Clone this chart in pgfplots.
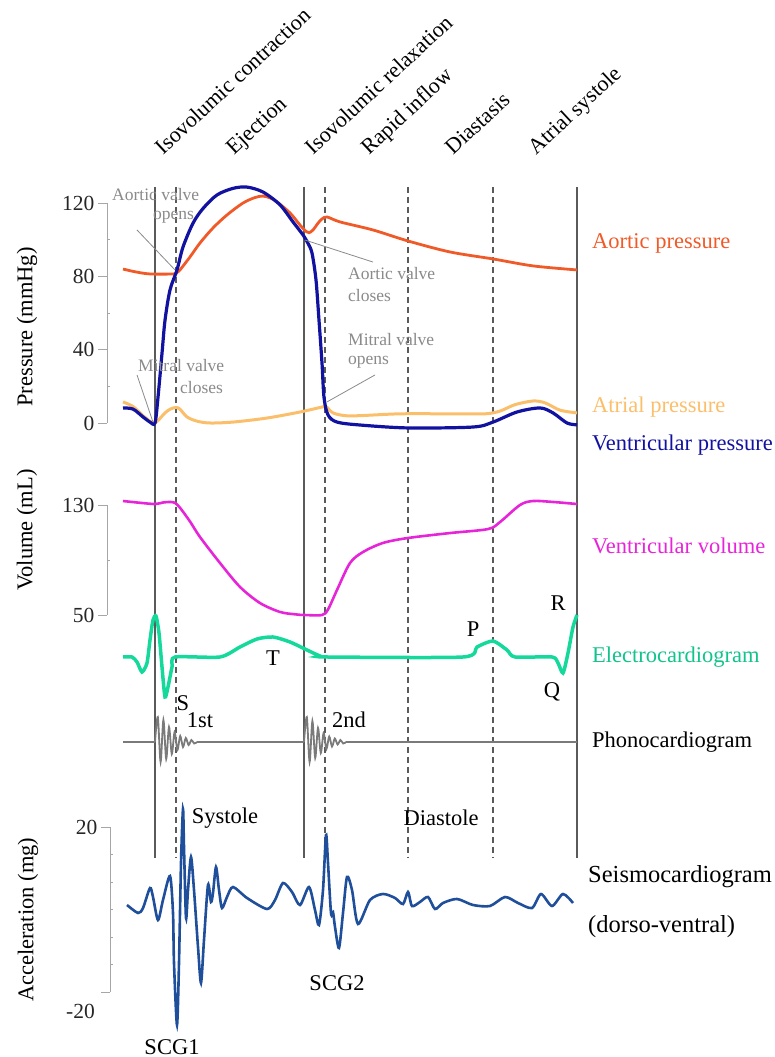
\documentclass[border=0pt]{standalone}
\usepackage{fontspec}
\setmainfont{Liberation Serif}
\usepackage{pgfplots}
\pgfplotsset{compat=1.18}
\definecolor{aortic}{HTML}{F05A28}
\definecolor{atrial}{HTML}{FBBF6B}
\definecolor{ventp}{HTML}{1212A0}
\definecolor{vol}{HTML}{E625D8}
\definecolor{ecg}{HTML}{14D99B}
\definecolor{pcg}{HTML}{7A7A7A}
\definecolor{scg}{HTML}{1F4E9B}
\definecolor{vline}{HTML}{5A5A5A}
\definecolor{anngray}{HTML}{8A8A8A}
\pgfplotsset{
  base/.style={x=1pt, xmin=107, xmax=600, clip=false, axis x line=none, xtick=\empty,
    /pgf/number format/assume math mode=true},
  yax/.style={axis y line*=left, tick align=outside, major tick length=9pt,
    axis line style={-, gray!70, line width=0.8pt}, tick style={gray!70, line width=0.8pt},
    yticklabel style={font=\fontsize{21.5}{25}\selectfont, text=black!85},
    extra y tick labels={}, extra y tick style={tick align=inside, major tick length=2.5pt}},
  noax/.style={hide axis},
}
\tikzset{
  lbl/.style={font=\fontsize{22.5}{26}\selectfont, inner sep=0pt},
  top/.style={font=\fontsize{22}{26}\selectfont, inner sep=0pt, rotate=43, anchor=base west},
  big/.style={font=\fontsize{24.5}{28}\selectfont, inner sep=0pt},
  ann/.style={font=\fontsize{17.5}{20}\selectfont, text=anngray, inner sep=0pt, anchor=west},
}
\begin{document}
\begin{tikzpicture}
\path[use as bounding box] (0,0) rectangle (775pt,1057pt);
% ---------------- Pressure ----------------
\begin{axis}[base, yax, at={(107pt,634pt)}, anchor=south west, y=1.833pt, ymin=0, ymax=120,
  ytick={0,40,80,120}, extra y ticks={20,60,100}]
% vertical phase lines
\addplot[vline, line width=1.2pt] coordinates {(155,128.75) (155,-237.3)};
\addplot[vline, line width=1.2pt] coordinates {(304,128.75) (304,-237.3)};
\addplot[vline, line width=1.2pt] coordinates {(577,128.75) (577,-237.3)};
\addplot[vline, line width=1.2pt, dash pattern=on 6pt off 4pt] coordinates {(176,128.75) (176,-237.3)};
\addplot[vline, line width=1.2pt, dash pattern=on 6pt off 4pt] coordinates {(325,128.75) (325,-237.3)};
\addplot[vline, line width=1.2pt, dash pattern=on 6pt off 4pt] coordinates {(408,128.75) (408,-237.3)};
\addplot[vline, line width=1.2pt, dash pattern=on 6pt off 4pt] coordinates {(493,128.75) (493,-237.3)};
% atrial pressure
\addplot[atrial, line width=3pt, smooth] coordinates {
(123,11.5)(133,9)(143,4)(150,1)(155,0)(160,2.5)(165,5.5)(170,7.5)(176,8.5)(180,7.5)(187,3.3)(197,1)(210,0)(233,0.5)(267,2.7)(300,6)(322,8.7)(326,9)(333,5.5)(345,4)(360,4)(400,5)(450,5)(485,5)(500,6.5)(515,10)(533,12)(545,11)(560,7)(577,5.5)};
% aortic pressure
\addplot[aortic, line width=2.8pt, smooth] coordinates {
(123,84)(135,82.5)(150,81.3)(173,81.3)(177,82)(180,83.5)(190,90.6)(200,98.2)(213,106.4)(227,113.5)(243,120)(255,123)(263,123.8)(270,122.8)(277,120.6)(290,114.6)(300,108)(306,104.5)(309,103.8)(313,105.3)(318,109)(322,111.3)(327,112.4)(340,109.7)(373,105.3)(408,99.3)(450,93.3)(493,89.5)(533,85.7)(577,83.5)};
% ventricular pressure
\addplot[ventp, line width=3.2pt, smooth] coordinates {
(123,8.2)(133,7.6)(143,3.3)(150,0.5)(155,0)(158,14)(162,38)(165,56)(170,72.6)(177,83.5)(183,96)(193,109)(203,117)(217,124.4)(233,128)(247,128.7)(263,126)(280,119)(293,109.7)(303,102.6)(308,98)(312,92.7)(316,78)(319,56)(322,32.7)(324,14)(328,4.4)(337,0.5)(360,-1.1)(408,-2.7)(473,-2.2)(493,0.5)(517,6)(540,8.2)(553,5.5)(567,0)(577,-1)};
% annotations
\addplot[anngray, line width=0.8pt] coordinates {(137,105.3) (175,83.5)};
\addplot[anngray, line width=0.8pt] coordinates {(137,26.2) (153,0.5)};
\addplot[anngray, line width=0.8pt] coordinates {(305,99.8) (373,87.8)};
\addplot[anngray, line width=0.8pt] coordinates {(327,11.5) (375,26.2)};
\node[ann] at (axis cs:112,124.4) {Aortic valve};
\node[ann] at (axis cs:153,112.4) {opens};
\node[ann] at (axis cs:138,31.6) {Mitral valve};
\node[ann] at (axis cs:180,19.1) {closes};
\node[ann] at (axis cs:348,81.8) {Aortic valve};
\node[ann] at (axis cs:348,69.8) {closes};
\node[ann] at (axis cs:348,45.3) {Mitral valve};
\node[ann] at (axis cs:348,33.3) {opens};
% right labels
\node[lbl, anchor=west, text=aortic] at (axis cs:592,98.2) {Aortic pressure};
\node[lbl, anchor=west, text=atrial] at (axis cs:592,8.7) {Atrial pressure};
\node[lbl, anchor=west, text=ventp] at (axis cs:592,-12) {Ventricular pressure};
% left label
\node[lbl, rotate=90] at (axis cs:27,52.4) {Pressure (mmHg)};
% phase labels
\node[top] at (axis cs:163,145.7) {Isovolumic contraction};
\node[top] at (axis cs:234,145.7) {Ejection};
\node[top] at (axis cs:313,145.7) {Isovolumic relaxation};
\node[top] at (axis cs:369,145.7) {Rapid inflow};
\node[top] at (axis cs:453,145.7) {Diastasis};
\node[top] at (axis cs:536,145.7) {Atrial systole};
\end{axis}
% ---------------- Volume ----------------
\begin{axis}[base, yax, at={(107pt,442pt)}, anchor=south west, y=1.375pt, ymin=50, ymax=130,
  ytick={50,130}, extra y ticks={90}]
\addplot[vol, line width=2.6pt, smooth] coordinates {
(123,132.9)(140,131.6)(155,130.7)(163,131.8)(170,132.2)(175,131.5)(180,128)(190,118)(200,106.7)(220,87.8)(240,70.4)(260,58.7)(280,52.2)(295,50.5)(304,50)(322,50)(328,54)(337,68.2)(350,87.8)(363,95.8)(383,102.4)(408,106)(450,109.6)(488,112.5)(500,117.6)(520,130)(533,132.9)(553,132.2)(577,130.7)};
\node[lbl, anchor=west, text=vol] at (axis cs:592,100.2) {Ventricular volume};
\node[lbl, rotate=90] at (axis cs:27,111.8) {Volume (mL)};
\end{axis}
% ---------------- ECG ----------------
\begin{axis}[base, noax, at={(107pt,360pt)}, anchor=south west, y=40pt, ymin=-1, ymax=1]
\addplot[ecg, line width=3.5pt, smooth, tension=0.4] coordinates {
(123,0)(132,0)(137,-0.125)(142,-0.375)(147,-0.15)(150,0.425)(153,0.925)(156,1.025)(159,0.6)(162,-0.25)(165,-1.0)(168,-0.75)(172,-0.25)(175,0)(220,0)(240,0.25)(257,0.45)(273,0.5)(290,0.375)(307,0.175)(320,0.025)(327,0)(463,0)(477,0.25)(493,0.4)(507,0.175)(515,0)(552,0)(558,-0.15)(563,-0.4)(568,0.1)(573,0.75)(577,1.05)};
\node[lbl, text=ecg!90!black, anchor=west] at (axis cs:592,0) {Electrocardiogram};
\node[lbl] at (axis cs:273,-0.025) {T};
\node[lbl] at (axis cs:473,0.7) {P};
\node[lbl] at (axis cs:558,1.35) {R};
\node[lbl] at (axis cs:552,-0.875) {Q};
\node[lbl] at (axis cs:183,-1.15) {S};
\end{axis}
% ---------------- PCG ----------------
\begin{axis}[base, noax, at={(107pt,285pt)}, anchor=south west, y=1pt, ymin=-30, ymax=30]
\addplot[pcg, line width=1.8pt] coordinates {(123,0)(155,0)};
\addplot[pcg, line width=1.8pt, smooth] coordinates {
(155,0)(157.8,25)(160.6,-20)(163.4,22)(166.2,-17)(169,15)(171.8,-12)(174.6,10)(177.4,-8)(180.2,6)(183,-5)(185.8,4)(188.6,-3)(191.4,2)(194.2,-1.5)(197,0)};
\addplot[pcg, line width=1.8pt] coordinates {(197,0)(304,0)};
\addplot[pcg, line width=1.8pt, smooth] coordinates {
(304,0)(306.8,25)(309.6,-20)(312.4,21)(315.2,-16)(318,14)(320.8,-11)(323.6,9)(326.4,-7)(329.2,5.5)(332,-4.5)(334.8,3.5)(337.6,-2.5)(340.4,2)(343.2,-1.5)(346,0)};
\addplot[pcg, line width=1.8pt] coordinates {(346,0)(577,0)};
\node[lbl, anchor=west] at (axis cs:592,0) {Phonocardiogram};
\node[lbl] at (axis cs:200,22) {1st};
\node[lbl] at (axis cs:349,22) {2nd};
\end{axis}
% ---------------- SCG ----------------
\begin{axis}[base, yax, xmin=110, at={(110pt,65pt)}, anchor=south west, y=4.125pt, ymin=-20, ymax=20,
  ytick={-20,20}, yticklabels={,20}, extra y ticks={-13.33,-6.67,0,6.67,13.33}]
\addplot[scg, line width=2.6pt, smooth, tension=0.45] coordinates {
(127,1.09)(138,-0.85)(143,0.36)(150,5.21)(153,3.03)(158,-2.55)(163,2.30)(170,8.12)(173,-0.85)(174,-12.97)(177,-28.0)(179,-12.97)(181,11.27)(183,24.36)(184,15.15)(186,-2.06)(188,4.73)(191,12.73)(194,4.73)(198,-9.09)(201,-17.82)(204,-7.39)(208,5.94)(211,1.82)(213,4.0)(216,10.30)(219,4.73)(222,0.36)(227,3.03)(233,5.45)(247,2.79)(267,0.12)(275,2.30)(283,6.42)(292,4.24)(300,1.09)(309,5.45)(315,-0.12)(319,-3.76)(323,4.73)(326,18.06)(328,11.27)(331,-0.85)(333,-0.61)(335,-4.24)(339,-9.33)(343,-0.85)(347,7.88)(352,4.73)(358,-3.52)(370,2.30)(383,3.76)(395,2.79)(403,1.33)(408,4.24)(412,0.85)(420,1.82)(428,3.03)(435,0.12)(443,1.58)(457,2.55)(473,1.09)(490,0.85)(505,3.03)(518,1.58)(532,0.36)(541,3.76)(552,0.85)(563,3.76)(573,1.58)};
\node[anchor=east, inner sep=0pt, font=\fontsize{21.5}{25}\selectfont, text=black!85] at (axis cs:95,-24.8) {-20};
\node[lbl] at (axis cs:225,22.2) {Systole};
\node[lbl] at (axis cs:441,22.2) {Diastole};
\node[lbl] at (axis cs:172,-33.3) {SCG1};
\node[lbl] at (axis cs:337,-17.8) {SCG2};
\node[big, anchor=west] at (axis cs:588,7.9) {Seismocardiogram};
\node[big, anchor=west] at (axis cs:588,-4.2) {(dorso-ventral)};
\node[lbl, rotate=90] at (axis cs:28,-2.5) {Acceleration (mg)};
\end{axis}
\end{tikzpicture}
\end{document}
